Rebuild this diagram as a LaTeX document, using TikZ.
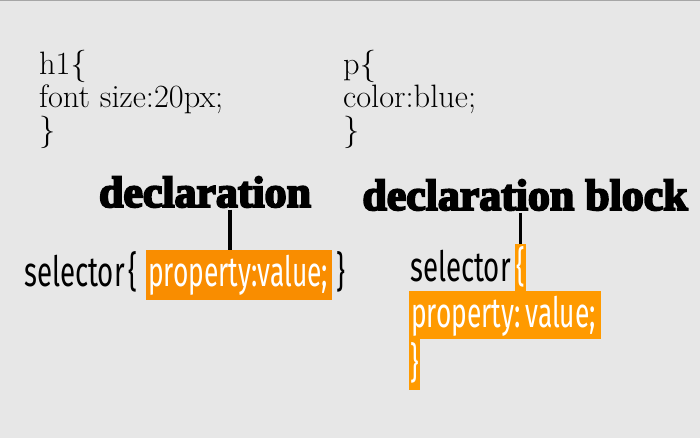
\documentclass[tikz,border=0pt]{standalone}
\usepackage{fontspec}
\usepackage{xcolor}
\usetikzlibrary{positioning}
\newfontfamily\titlefont{Liberation Serif}[BoldFeatures={FakeBold=4.5}]
\newfontfamily\codefont{Fira Sans}[FakeStretch=0.66]
\newfontfamily\hlfont{Fira Sans}[FakeStretch=0.63]
\definecolor{pagebg}{HTML}{E7E7E7}
\definecolor{hlorange}{HTML}{F98D00}
\definecolor{hlamber}{HTML}{FF9A00}

\begin{document}
\begin{tikzpicture}[
  x=1bp, y=-1bp,
  rule/.style={font=\fontsize{32.5}{36}\selectfont, inner sep=0, anchor=base west},
  title/.style={font=\titlefont\bfseries\fontsize{44}{48}\selectfont, inner sep=2bp, anchor=base},
  css/.style={font=\codefont\fontsize{42}{48}\selectfont, inner sep=0, anchor=base west},
  hl/.style={css, font=\hlfont\fontsize{42}{48}\selectfont, fill=#1, text=white, inner xsep=2bp, inner ysep=0, align=left},
  stem/.style={line width=3.5bp}
]
  \fill[pagebg] (0,0) rectangle (700,438);
  \useasboundingbox (0,0) rectangle (700,438);
  \draw[gray!70, line width=1.5bp] (0,0.75) -- (700,0.75);

  % css rules on top
  \node[rule] (h1open)  at (39,75)  {h1\{};
  \node[rule] (h1decl)  at (39,108) {font size:20px;};
  \node[rule] (h1close) at (39,141) {\}};
  \node[rule] (popen)   at (343,75)  {p\{};
  \node[rule] (pdecl)   at (343,108) {color:blue;};
  \node[rule] (pclose)  at (343,141) {\}};

  % declaration
  \node[title] (decltitle) at (205,207) {declaration};
  \node[css] (sel1) at (24,287) {selector};
  \node[css] (ob1)  at (128,287) {\{};
  \node[hl=hlorange, text width=182bp, text height=37bp, text depth=13bp] (decl) at (146,287) {\mbox{property:value;}};
  \node[css] (cb1)  at (336,287) {\}};
  \coordinate (stem1) at (230,0);
  \draw[stem] (decltitle.south -| stem1) -- (decl.north -| stem1);

  % declaration block
  \node[title] (blocktitle) at (525,210) {declaration block};
  \node[css] (sel2) at (410,282) {selector};
  \node[hl=hlamber, text width=9bp, inner xsep=1bp, text height=38bp, text depth=9bp] (ob2) at (515,282) {\mbox{\{}};
  \node[hl=hlamber, text width=188bp, text height=37bp, text depth=11bp] (blockdecl) at (409,328) {\mbox{property:\kern5bp value;}};
  \node[hl=hlamber, text width=9bp, inner xsep=1bp, text height=38bp, text depth=13bp] (cb2) at (409,377) {\mbox{\}}};
  \draw[stem] (blocktitle.south -| ob2.north) -- (ob2.north);
\end{tikzpicture}
\end{document}
